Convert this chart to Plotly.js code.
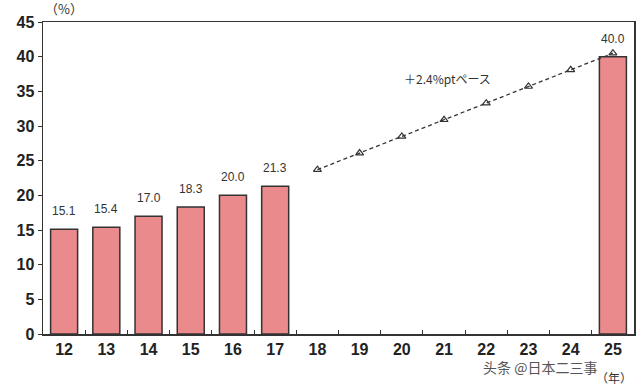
<!DOCTYPE html>
<html>
<head>
<meta charset="utf-8">
<script src="https://cdn.plot.ly/plotly-3.0.1.min.js"></script>
<style>html,body{margin:0;padding:0;background:#fff}#chart{width:640px;height:386px}</style>
</head>
<body>
<div id="chart"></div>
<script>
const categories = ["12","13","14","15","16","17","18","19","20","21","22","23","24","25"];
const barYears = ["12","13","14","15","16","17","25"];
const barValues = [15.1, 15.4, 17.0, 18.3, 20.0, 21.3, 40.0];
const barLabels = ["15.1","15.4","17.0","18.3","20.0","21.3","40.0"];
const paceYears = ["18","19","20","21","22","23","24","25"];
const paceValues = [23.7, 26.1, 28.5, 30.9, 33.3, 35.7, 38.1, 40.5];
const yTicks = [0,5,10,15,20,25,30,35,40,45];

const traces = [
  {
    type: "bar",
    x: barYears,
    y: barValues,
    marker: {color: "#EB8A8C", line: {color: "#333333", width: 1.5}},
    hoverinfo: "skip"
  },
  {
    type: "scatter",
    mode: "lines+markers",
    x: paceYears,
    y: paceValues,
    line: {color: "#333333", width: 1.3, dash: "4px,3px"},
    marker: {symbol: "triangle-up-open", size: 7, color: "#333333", line: {width: 1.2}},
    hoverinfo: "skip"
  }
];

const annotations = barYears.map((c, i) => ({
  x: categories.indexOf(c), y: barValues[i], xref: "x", yref: "y",
  text: barLabels[i], showarrow: false, yanchor: "bottom", yshift: 9,
  font: {family: "Liberation Sans, Arial, sans-serif", size: 12, color: "#333333"}
}));

annotations.push({
  xref: "paper", yref: "paper", x: 0.685, y: 0.82, xanchor: "center", yanchor: "middle",
  text: "＋2.4%ptペース", showarrow: false,
  font: {family: "Noto Sans CJK JP, sans-serif", size: 12, color: "#333333"}
});
annotations.push({
  xref: "paper", yref: "paper", x: 0.0, y: 1.0, xanchor: "left", yanchor: "bottom", yshift: 2,
  text: "（%）", showarrow: false,
  font: {family: "Noto Sans CJK JP, sans-serif", size: 13, color: "#333333"}
});
annotations.push({
  xref: "paper", yref: "paper", x: 1.0, y: 0, xanchor: "right", yanchor: "top", yshift: -33,
  text: "（年）", showarrow: false,
  font: {family: "Noto Sans CJK JP, sans-serif", size: 12, color: "#333333"}
});
annotations.push({
  xref: "paper", yref: "paper", x: 0.94, y: 0, xanchor: "right", yanchor: "top", yshift: -21,
  text: "头条 @日本二三事", showarrow: false,
  font: {family: "Noto Sans CJK SC, sans-serif", size: 14, color: "#555555"}
});

const layout = {
  width: 640, height: 386,
  margin: {l: 43, r: 6, t: 22, b: 52},
  paper_bgcolor: "#ffffff", plot_bgcolor: "#ffffff",
  showlegend: false,
  bargap: 0.36,
  xaxis: {
    type: "category", categoryorder: "array", categoryarray: categories,
    range: [-0.5, categories.length - 0.5],
    showline: true, linecolor: "#333333", linewidth: 1.5, mirror: true,
    ticks: "inside", tickson: "boundaries", ticklen: 4, tickcolor: "#333333", tickwidth: 1,
    showgrid: false, zeroline: false,
    tickfont: {family: "Liberation Sans, Arial, sans-serif", size: 16, color: "#222222", weight: "bold"}
  },
  yaxis: {
    range: [0, 45], tickvals: yTicks, ticktext: yTicks.map(String),
    showline: true, linecolor: "#333333", linewidth: 1.5, mirror: true,
    ticks: "outside", ticklen: 4, tickcolor: "#333333",
    showgrid: false, zeroline: false,
    tickfont: {family: "Liberation Sans, Arial, sans-serif", size: 16, color: "#222222", weight: "bold"}
  },
  annotations: annotations
};

Plotly.newPlot("chart", traces, layout, {staticPlot: true, displayModeBar: false});
</script>
</body>
</html>
